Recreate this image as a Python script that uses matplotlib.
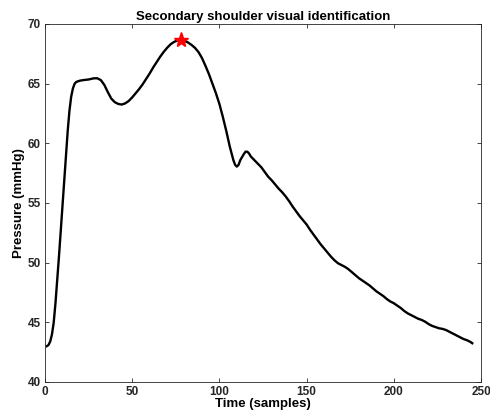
import matplotlib
matplotlib.use("Agg")
import matplotlib.pyplot as plt

plt.rcParams['font.family'] = ['Liberation Sans', 'DejaVu Sans']

samples = [1, 2, 3, 4, 5, 6, 7, 8, 9, 10, 11, 12, 13, 14, 15, 16, 17, 18, 20, 22, 25, 28, 30,
           32, 34, 36, 38, 40, 42, 44, 46, 48, 50, 52, 54, 56, 58, 60, 62, 64, 66, 68, 70,
           72, 74, 76, 78, 80, 82, 84, 86, 88, 90, 92, 94, 96, 98, 100, 102, 104, 106, 108,
           109, 110, 111, 112, 114, 115, 116, 117, 118, 120, 122, 124, 126, 128, 130, 132,
           134, 136, 138, 140, 142, 144, 146, 148, 150, 152, 154, 156, 158, 160, 162, 164,
           166, 168, 170, 172, 174, 176, 178, 180, 182, 184, 186, 188, 190, 192, 194, 196,
           198, 200, 202, 204, 206, 208, 210, 212, 214, 216, 218, 220, 222, 224, 226, 228,
           230, 232, 234, 236, 238, 240, 242, 244, 245]
pressure = [43.0, 43.1, 43.4, 44.0, 45.0, 46.6, 48.5, 50.5, 52.6, 54.6, 56.8, 59.0, 61.0,
            62.7, 63.9, 64.6, 65.0, 65.15, 65.25, 65.3, 65.35, 65.45, 65.45, 65.3, 64.9,
            64.3, 63.75, 63.45, 63.3, 63.25, 63.35, 63.55, 63.85, 64.2, 64.55, 64.95, 65.4,
            65.85, 66.35, 66.8, 67.25, 67.65, 68.0, 68.3, 68.5, 68.62, 68.65, 68.6, 68.45,
            68.25, 68.0, 67.65, 67.15, 66.5, 65.8, 65.0, 64.2, 63.3, 62.2, 61.0, 59.7, 58.6,
            58.2, 58.05, 58.2, 58.6, 59.1, 59.3, 59.3, 59.15, 58.9, 58.6, 58.3, 58.0, 57.6,
            57.2, 56.9, 56.55, 56.2, 55.9, 55.55, 55.15, 54.7, 54.3, 53.9, 53.55, 53.2, 52.75,
            52.35, 51.95, 51.55, 51.2, 50.85, 50.5, 50.2, 49.95, 49.8, 49.65, 49.45, 49.2,
            48.95, 48.7, 48.5, 48.3, 48.1, 47.85, 47.6, 47.4, 47.2, 46.95, 46.75, 46.6, 46.4,
            46.2, 45.95, 45.75, 45.6, 45.45, 45.3, 45.2, 45.05, 44.85, 44.7, 44.6, 44.5,
            44.45, 44.35, 44.2, 44.05, 43.9, 43.75, 43.6, 43.5, 43.35, 43.25]
peak_x = [78]
peak_y = [68.65]
xticks = [0, 50, 100, 150, 200, 250]
yticks = [40, 45, 50, 55, 60, 65, 70]

fig = plt.figure(figsize=(4.9, 4.17), dpi=100)
ax = fig.add_axes([45/490, 1-382/417, (481-45)/490, (382-24)/417])
ax.plot(samples, pressure, color='black', linewidth=1.7)
ax.plot(peak_x, peak_y, marker='*', color='red', markersize=11, linestyle='none')
ax.set_xlim(0, 250)
ax.set_ylim(40, 70)
ax.set_xticks(xticks)
ax.set_yticks(yticks)
ax.tick_params(direction='in', top=True, right=True, length=3, width=0.6,
               colors='#262626', labelsize=8.5, pad=3)
for lab in ax.get_xticklabels() + ax.get_yticklabels():
    lab.set_fontweight('bold')
for s in ax.spines.values():
    s.set_color('#262626')
    s.set_linewidth(0.6)
ax.set_title('Secondary shoulder visual identification', fontsize=9.5, fontweight='bold', pad=3)
ax.set_xlabel('Time (samples)', fontsize=9.5, fontweight='bold', labelpad=0)
ax.set_ylabel('Pressure (mmHg)', fontsize=9.5, fontweight='bold', labelpad=2)
fig.savefig('out.png', dpi=100)
